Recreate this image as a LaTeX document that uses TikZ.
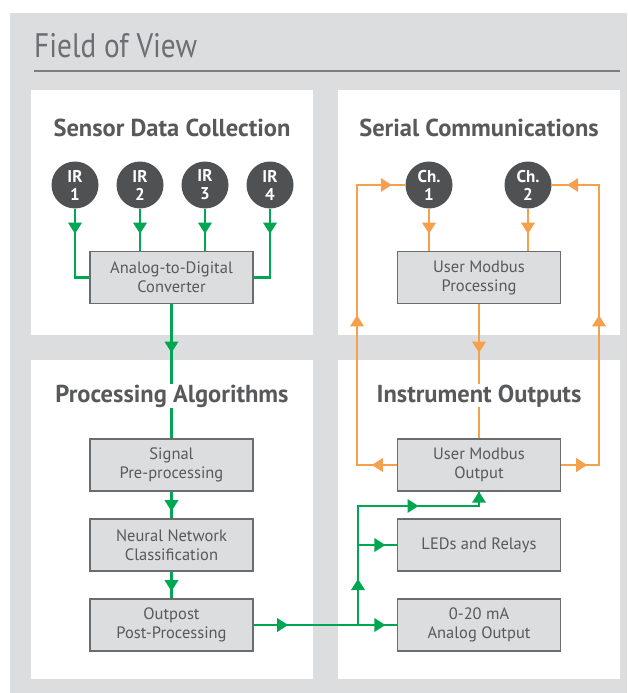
\documentclass[tikz,border=0pt]{standalone}
\usepackage{fontspec}
\setmainfont{PT Sans}
\newfontfamily\titlefont[FakeStretch=0.86]{PT Sans}
\usetikzlibrary{decorations.markings}
\definecolor{bggray}{HTML}{DCDDDF}
\definecolor{boxfill}{HTML}{DCDDDF}
\definecolor{boxline}{HTML}{6B6C6F}
\definecolor{txt}{HTML}{58595B}
\definecolor{dark}{HTML}{505153}
\definecolor{ggreen}{HTML}{00A651}
\definecolor{orng}{HTML}{F4A04C}
\definecolor{ttl}{HTML}{6D6E71}
\definecolor{rulec}{HTML}{7D7E81}
\begin{document}
\begin{tikzpicture}[x=1pt,y=-1pt,
 head/.style={fill=white,inner sep=0.5pt,text=txt,font=\bfseries\fontsize{24.5}{28}\selectfont,anchor=base},
 box/.style={draw=boxline,line width=1.3pt,fill=boxfill,minimum width=163pt,minimum height=52pt,inner sep=0pt,align=center,text=txt,font=\fontsize{16.5}{19}\selectfont},
 src/.style={circle,fill=dark,minimum size=47pt,inner sep=0pt,align=center,text=white,font=\bfseries\fontsize{17}{18}\selectfont},
 gline/.style={ggreen,line width=2.8pt},
 oline/.style={orng,line width=2.5pt},
 amark/.style={postaction={decorate,decoration={markings,mark=at position #1 with {\fill (5.5pt,0pt)--(-5.5pt,7pt)--(-5.5pt,-7pt)--cycle;}}}},
]
\useasboundingbox (0,0) rectangle (627,693);
\fill[white] (0,0) rectangle (627,693);
\fill[bggray] (10,13) rectangle (627,693);
\node[anchor=base west,text=ttl,font=\titlefont\fontsize{34}{40}\selectfont,inner sep=0pt] (title) at (34,58) {Field of View};
\coordinate (rl) at (34,71);
\coordinate (rr) at (620,71);
\draw[rulec,line width=2pt] (rl) -- (rr);
% panels
\fill[white] (31,90) rectangle (313,335);
\fill[white] (338,90) rectangle (620,335);
\fill[white] (31,360) rectangle (313,679);
\fill[white] (338,360) rectangle (620,679);
% nodes
\node[src] (ir1) at (75,185) {IR\\1};
\node[src] (ir2) at (140,185) {IR\\2};
\node[src] (ir3) at (205,185) {IR\\3};
\node[src] (ir4) at (270,185) {IR\\4};
\node[src] (ch1) at (429,185) {Ch.\\1};
\node[src] (ch2) at (528,185) {Ch.\\2};
\node[box] (adc) at (171.5,277.5) {Analog-to-Digital\\Converter};
\node[box] (ump) at (479,277.5) {User Modbus\\Processing};
\node[box] (sig) at (171.5,465) {Signal\\Pre-processing};
\node[box] (nn) at (171.5,545) {Neural Network\\Classification};
\node[box] (post) at (171.5,625) {Outpost\\Post-Processing};
\node[box] (umo) at (479,465) {User Modbus\\Output};
\node[box] (led) at (479,545) {LEDs and Relays};
\node[box] (ana) at (479,625) {0-20 mA\\Analog Output};
\coordinate (j1) at (358,625);
\coordinate (j2) at (358,545);
\coordinate (j3) at (358,506);
\coordinate (j4) at (479,506);
\coordinate (lx) at (357,0);
\coordinate (rx) at (599,0);
% green connectors
\draw[gline,amark=19.5pt] (ir1.south) -- (ir1.south |- adc.west) -- (adc.west);
\draw[gline,amark=19.5pt] (ir2.south) -- (adc.north -| ir2.south);
\draw[gline,amark=19.5pt] (ir3.south) -- (adc.north -| ir3.south);
\draw[gline,amark=19.5pt] (ir4.south) -- (ir4.south |- adc.east) -- (adc.east);
\draw[gline,amark=43pt] (adc.south) -- (sig.north);
\draw[gline,amark=14pt] (sig.south) -- (nn.north);
\draw[gline,amark=14pt] (nn.south) -- (post.north);
\draw[gline,amark=29pt,amark=-17pt] (post.east) -- (ana.west);
\draw[gline,amark=40.5pt,amark=174pt,amark=-5.5pt] (j1) -- (j3) -- (j4) -- (umo.south);
\draw[gline,amark=-17pt] (j2) -- (led.west);
% orange connectors
\draw[oline,amark=19.5pt] (ch1.south) -- (ump.north -| ch1.south);
\draw[oline,amark=19.5pt] (ch2.south) -- (ump.north -| ch2.south);
\draw[oline,amark=43pt] (ump.south) -- (umo.north);
\draw[oline,amark=19.5pt,amark=184pt,amark=-19pt] (umo.west) -- (umo.west -| lx) -- (ch1.west -| lx) -- (ch1.west);
\draw[oline,amark=20.5pt,amark=182pt,amark=-21pt] (umo.east) -- (umo.east -| rx) -- (ch2.east -| rx) -- (ch2.east);
% headings
\node[head] (h1) at (172,136) {Sensor Data Collection};
\node[head] (h2) at (479,136) {Serial Communications};
\node[head] (h3) at (172,402) {Processing Algorithms};
\node[head] (h4) at (479,402) {Instrument Outputs};
\end{tikzpicture}
\end{document}
